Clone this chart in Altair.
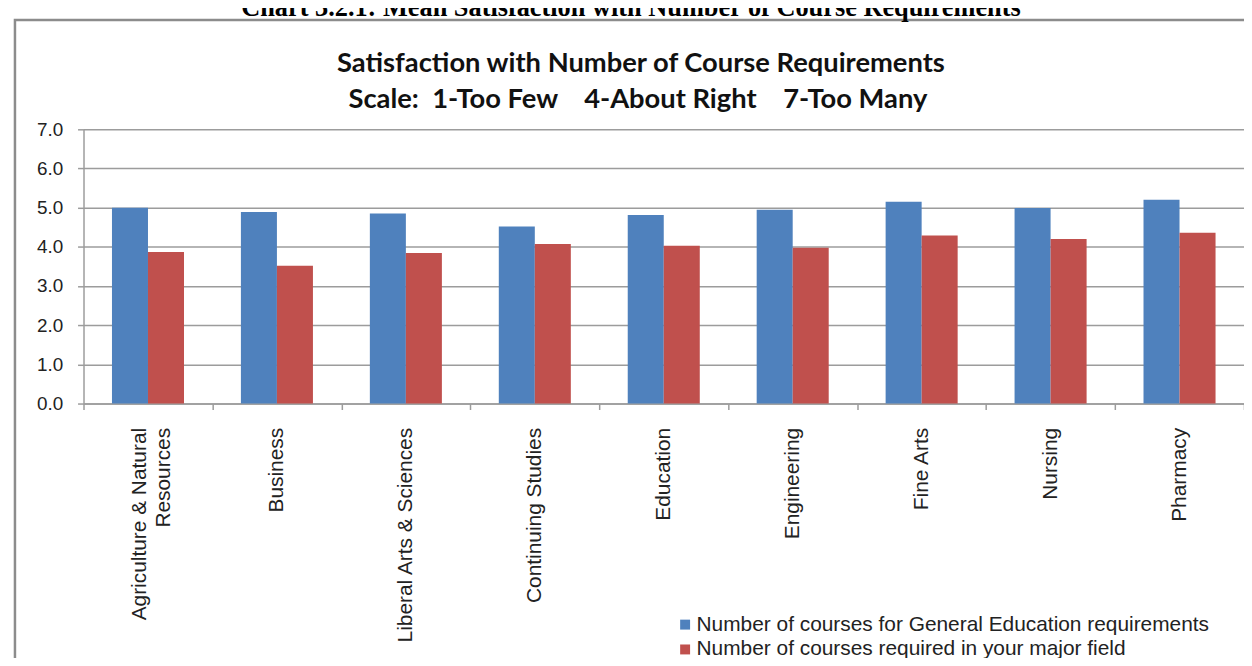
import altair as alt
import pandas as pd

# ---- data ----
colleges = [
    "Agriculture & Natural Resources",
    "Business",
    "Liberal Arts & Sciences",
    "Continuing Studies",
    "Education",
    "Engineering",
    "Fine Arts",
    "Nursing",
    "Pharmacy",
]
gen_ed = [5.00, 4.89, 4.85, 4.52, 4.81, 4.95, 5.15, 4.99, 5.20]
major = [3.87, 3.52, 3.84, 4.07, 4.03, 3.98, 4.29, 4.20, 4.36]
series = [
    "Number of courses for General Education requirements",
    "Number of courses required in your major field",
]
colors = ["#4F81BD", "#C0504D"]
y_ticks = [0, 1, 2, 3, 4, 5, 6, 7]

NB = "\u00a0"
page_title = "Chart 3.2.1: Mean Satisfaction with Number of Course Requirements"
chart_title = "Satisfaction with Number of Course Requirements"
chart_subtitle = "Scale:" + NB * 2 + "1-Too Few" + NB * 4 + "4-About Right" + NB * 4 + "7-Too Many"

rows = []
for c, g, m in zip(colleges, gen_ed, major):
    rows.append({"college": c, "series": series[0], "value": g})
    rows.append({"college": c, "series": series[1], "value": m})
df = pd.DataFrame(rows)

label_expr = (
    "datum.value == 'Agriculture & Natural Resources' ? "
    "['Agriculture & Natural', 'Resources'] : datum.label"
)

GREY = "#9c9c9c"
FONT = "Liberation Sans"

bars = alt.Chart(df).mark_bar().encode(
    x=alt.X(
        "college:N",
        sort=colleges,
        scale=alt.Scale(paddingInner=0, paddingOuter=0),
        axis=alt.Axis(
            title=None,
            labelAngle=270,
            labelAlign="right",
            labelBaseline="middle",
            labelExpr=label_expr,
            labelFontSize=21,
            labelLineHeight=24,
            labelFont=FONT,
            labelColor="#222222",
            labelPadding=18,
            labelLimit=400,
            labelOffset={
                "condition": {
                    "test": "datum.value == 'Agriculture & Natural Resources'",
                    "value": -8,
                },
                "value": 0,
            },
            tickBand="extent",
            tickSize=6,
            tickColor=GREY,
            tickWidth=1.5,
            domainColor=GREY,
            domainWidth=1.5,
            grid=False,
        ),
    ),
    xOffset=alt.XOffset(
        "series:N",
        sort=series,
        scale=alt.Scale(paddingInner=0, paddingOuter=0.79),
    ),
    y=alt.Y(
        "value:Q",
        scale=alt.Scale(domain=[0, 7], nice=False),
        axis=alt.Axis(
            title=None,
            values=y_ticks,
            format=".1f",
            labelFontSize=19,
            labelFont=FONT,
            labelColor="#222222",
            labelPadding=15,
            tickSize=6,
            tickColor=GREY,
            tickWidth=1.5,
            domainColor=GREY,
            domainWidth=1.5,
            grid=True,
            gridColor=GREY,
            gridWidth=1.5,
        ),
    ),
    color=alt.Color(
        "series:N",
        sort=series,
        scale=alt.Scale(domain=series, range=colors),
        legend=alt.Legend(
            title=None,
            orient="none",
            legendX=595,
            legendY=488,
            symbolType="square",
            symbolSize=100,
            symbolStrokeWidth=0,
            labelFontSize=21,
            labelFont=FONT,
            labelColor="#222222",
            labelOffset=1,
            rowPadding=3,
            padding=0,
            labelLimit=700,
        ),
    ),
)

one = pd.DataFrame({"k": [0]})

box = alt.Chart(one).mark_rect(
    filled=False, stroke="#8c8c8c", strokeWidth=2.5
).encode(
    x=alt.value(-69), x2=alt.value(1200), y=alt.value(-110), y2=alt.value(600)
)

t_page = alt.Chart(pd.DataFrame({"t": [page_title]})).mark_text(
    font="Liberation Serif", fontWeight="bold", fontSize=26.5, align="center",
    baseline="alphabetic", color="#000000"
).encode(text="t:N", x=alt.value(551), y=alt.value(-114))

t_title = alt.Chart(pd.DataFrame({"t": [chart_title]})).mark_text(
    font="Lato", fontWeight="bold", fontSize=27.5, align="center",
    baseline="alphabetic", color="#111111"
).encode(text="t:N", x=alt.value(561), y=alt.value(-58))

t_sub = alt.Chart(pd.DataFrame({"t": [chart_subtitle]})).mark_text(
    font="Lato", fontWeight="bold", fontSize=27.5, align="center",
    baseline="alphabetic", color="#111111"
).encode(text="t:N", x=alt.value(558), y=alt.value(-21))

chart = alt.layer(box, t_page, t_title, t_sub, bars).properties(
    width=1168,
    height=276,
    autosize=alt.AutoSizeParams(type="none"),
    padding={"left": 76, "top": 120, "right": 0, "bottom": 254},
).configure_view(stroke=None)

chart.save("out.html", embed_options={"renderer": "svg", "actions": False})
